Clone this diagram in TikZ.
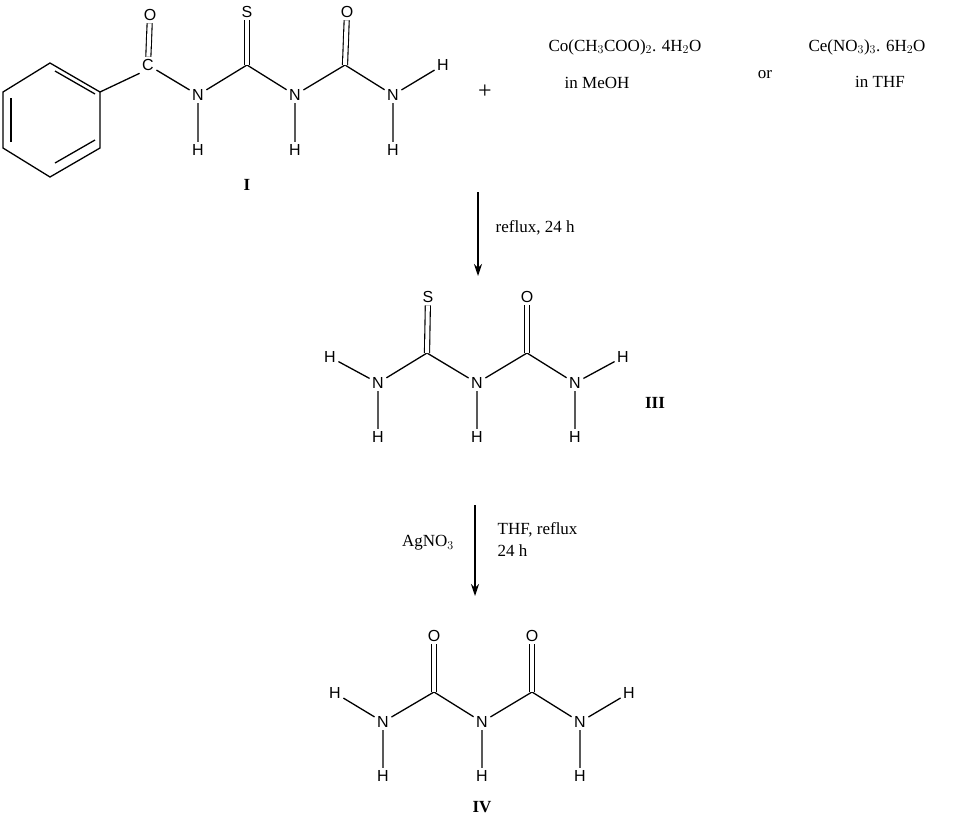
\documentclass[tikz,border=0pt]{standalone}
\usepackage{fontspec}
\setmainfont{Liberation Serif}
\newfontfamily\atomfont{Liberation Sans}
\usetikzlibrary{arrows.meta}
\begin{document}
\begin{tikzpicture}[x=1pt,y=-1pt,line width=1.3pt,
 atom/.style={font=\atomfont\fontsize{16}{18}\selectfont,inner sep=2pt},
 lbl/.style={font=\fontsize{17}{20}\selectfont,inner sep=0pt},
 dbl/.style={double,double distance=4pt,line width=1.1pt},
 rxn/.style={-{Stealth[length=12pt,width=8pt]},line width=1.3pt}]
\useasboundingbox (0,0) rectangle (972,823);
% ---- I ----
\coordinate (r1) at (50,63); \coordinate (r2) at (100,92); \coordinate (r3) at (100,148);
\coordinate (r4) at (50,177); \coordinate (r5) at (3,148); \coordinate (r6) at (3,92);
\draw (r1)--(r2)--(r3)--(r4)--(r5)--(r6)--cycle;
\draw (r1)++(5,8) -- ++(40,23);
\draw (r3)++(-5,-8) -- ++(-40,23);
\draw (r5)++(8,-6) -- ++(0,-44);
\node[atom] (C1) at (148,65) {C};
\node[atom] (O1) at (150,15) {O};
\node[atom] (N1) at (198,95) {N};
\node[atom] (H1) at (198,150) {H};
\coordinate (C2) at (247,65);
\node[atom] (S1) at (247,12) {S};
\node[atom] (N2) at (295,95) {N};
\node[atom] (H2) at (295,150) {H};
\coordinate (C3) at (345,65);
\node[atom] (O2) at (347,12) {O};
\node[atom] (N3) at (393,95) {N};
\node[atom] (H3) at (393,150) {H};
\node[atom] (H4) at (443,65) {H};
\draw (r2)--(C1.south west);
\draw[dbl] (C1)--(O1);
\draw (C1)--(N1) (N1)--(H1) (N1)--(C2) (C2)--(N2) (N2)--(H2) (N2)--(C3) (C3)--(N3) (N3)--(H3) (N3)--(H4);
\draw[dbl] (C2)--(S1); \draw[dbl] (C3)--(O2);
\node[lbl,font=\bfseries\fontsize{17}{20}\selectfont] (LI) at (247,185) {I};
\node[lbl,font=\fontsize{24}{26}\selectfont] (plus) at (485,92) {+};
\node[lbl] (co) at (625,47) {Co(CH$_3$COO)$_2$. 4H$_2$O};
\node[lbl] (meoh) at (597,83) {in MeOH};
\node[lbl] (or) at (765,75) {or};
\node[lbl] (ce) at (867,47) {Ce(NO$_3$)$_3$. 6H$_2$O};
\node[lbl] (thf) at (880,82) {in THF};
% arrow 1
\coordinate (a1s) at (478,192); \coordinate (a1e) at (478,276);
\draw[rxn] (a1s)--(a1e);
\node[lbl,anchor=west] (ref1) at (495,228) {reflux, 24 h};
% ---- III ----
\node[atom] (Ha) at (330,357) {H};
\node[atom] (Na) at (378,383) {N};
\node[atom] (Hb) at (378,437) {H};
\coordinate (Ca) at (427,353);
\node[atom] (Sa) at (428,297) {S};
\node[atom] (Nb) at (477,383) {N};
\node[atom] (Hc) at (477,437) {H};
\coordinate (Cb) at (527,353);
\node[atom] (Oa) at (527,297) {O};
\node[atom] (Nc) at (575,383) {N};
\node[atom] (Hd) at (575,437) {H};
\node[atom] (He) at (623,357) {H};
\draw (Ha)--(Na) (Na)--(Hb) (Na)--(Ca) (Ca)--(Nb) (Nb)--(Hc) (Nb)--(Cb) (Cb)--(Nc) (Nc)--(Hd) (Nc)--(He);
\draw[dbl] (Ca)--(Sa); \draw[dbl] (Cb)--(Oa);
\node[lbl,font=\bfseries\fontsize{17}{20}\selectfont] (LIII) at (655,403) {III};
% arrow 2
\coordinate (a2s) at (475,505); \coordinate (a2e) at (475,596);
\draw[rxn] (a2s)--(a2e);
\node[lbl] (ag) at (428,543) {AgNO$_3$};
\node[lbl,anchor=west] (thf2) at (497,530) {THF, reflux};
\node[lbl,anchor=west] (h24) at (497,551) {24 h};
% ---- IV ----
\node[atom] (Hf) at (335,693) {H};
\node[atom] (Nd) at (383,722) {N};
\node[atom] (Hg) at (383,776) {H};
\coordinate (Cc) at (434,692);
\node[atom] (Ob) at (434,636) {O};
\node[atom] (Ne) at (482,722) {N};
\node[atom] (Hh) at (482,776) {H};
\coordinate (Cd) at (532,692);
\node[atom] (Oc) at (532,636) {O};
\node[atom] (Nf) at (580,722) {N};
\node[atom] (Hi) at (580,776) {H};
\node[atom] (Hj) at (629,693) {H};
\draw (Hf)--(Nd) (Nd)--(Hg) (Nd)--(Cc) (Cc)--(Ne) (Ne)--(Hh) (Ne)--(Cd) (Cd)--(Nf) (Nf)--(Hi) (Nf)--(Hj);
\draw[dbl] (Cc)--(Ob); \draw[dbl] (Cd)--(Oc);
\node[lbl,font=\bfseries\fontsize{17}{20}\selectfont] (LIV) at (482,807) {IV};
\end{tikzpicture}
\end{document}
